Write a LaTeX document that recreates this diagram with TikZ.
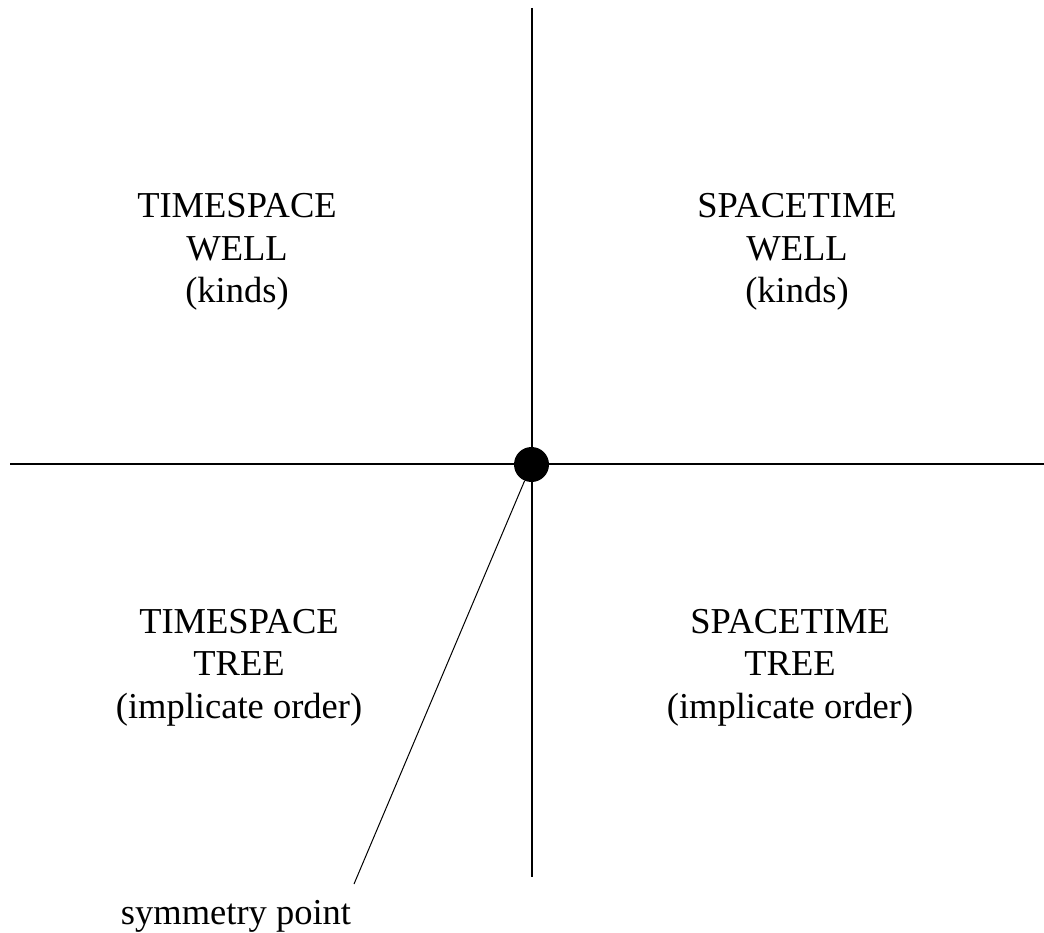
\documentclass[tikz,border=0pt]{standalone}
\usepackage{fontspec}
\setmainfont{Liberation Serif}
\begin{document}
\begin{tikzpicture}[x=1pt,y=-1pt,
  axis/.style={line width=2pt},
  quad/.style={align=center,font=\fontsize{36.5}{42.5}\selectfont,inner sep=0pt},
  lbl/.style={font=\fontsize{36.5}{42.5}\selectfont,inner sep=0pt,anchor=base}]
\useasboundingbox (0,0) rectangle (1044,933);
\coordinate (top) at (531.5,8);
\coordinate (bot) at (531.5,877);
\coordinate (left) at (10,464);
\coordinate (right) at (1044,464);
\draw[axis] (top) -- (bot);
\draw[axis] (left) -- (right);
\node[circle,fill=black,minimum size=35pt,inner sep=0pt] (dot) at (531.5,464.5) {};
\coordinate (tip) at (354,884);
\draw[line width=1pt] (dot) -- (tip);
\node[quad] (tl) at (237,252) {TIMESPACE\\WELL\\(kinds)};
\node[quad] (tr) at (797,252) {SPACETIME\\WELL\\(kinds)};
\node[quad] (bl) at (239,667.5) {TIMESPACE\\TREE\\(implicate order)};
\node[quad] (br) at (790,667.5) {SPACETIME\\TREE\\(implicate order)};
\node[lbl] (sym) at (236,924) {symmetry point};
\end{tikzpicture}
\end{document}
